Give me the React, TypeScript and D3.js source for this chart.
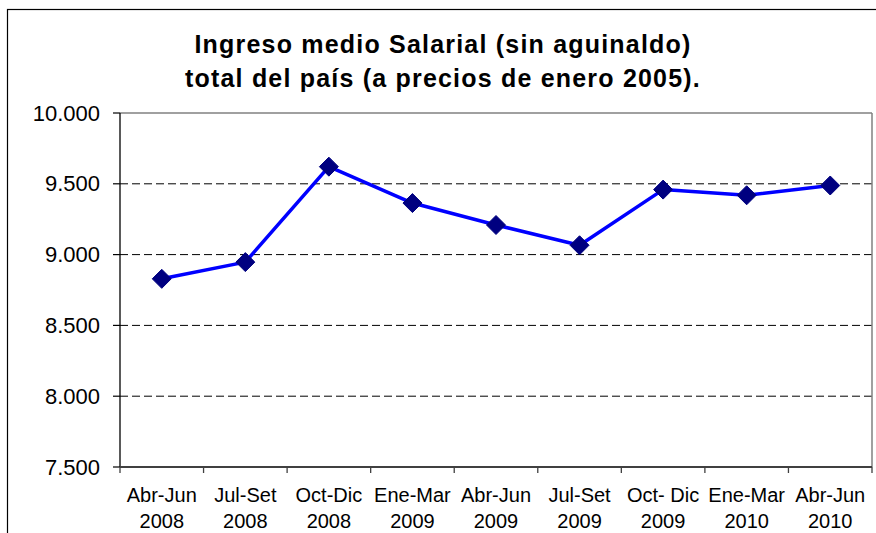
import React from "react";
import * as d3 from "d3";

const periods: string[] = ["Abr-Jun", "Jul-Set", "Oct-Dic", "Ene-Mar", "Abr-Jun", "Jul-Set", "Oct- Dic", "Ene-Mar", "Abr-Jun"];
const years: string[] = ["2008", "2008", "2008", "2009", "2009", "2009", "2009", "2010", "2010"];
const ingreso: number[] = [8829, 8947, 9621, 9364, 9209, 9066, 9459, 9419, 9488];
const yTicks: number[] = [7500, 8000, 8500, 9000, 9500, 10000];
const titleLines: string[] = ["Ingreso medio Salarial (sin aguinaldo)", "total del país (a precios de enero 2005)."];

const W = 876;
const H = 533;
const plot = { left: 120, right: 872, top: 113, bottom: 467 };

const esLocale = d3.formatLocale({ decimal: ",", thousands: ".", grouping: [3], currency: ["$", ""] });
const fmt = esLocale.format(",.0f");

export default function App() {
  const keys = periods.map((_, i) => String(i));
  const x = d3.scaleBand<string>().domain(keys).range([plot.left, plot.right]).padding(0);
  const y = d3.scaleLinear().domain([7500, 10000]).range([plot.bottom, plot.top]);
  const cx = (i: number) => (x(String(i)) as number) + x.bandwidth() / 2;

  const line = d3
    .line<number>()
    .x((_, i) => cx(i))
    .y((d) => y(d));

  const boundaries = keys.map((k) => x(k) as number).concat([plot.right]);
  const font = "'Liberation Sans', Arial, sans-serif";
  const r = 9.5;

  return (
    <svg width={W} height={H} style={{ position: "absolute", left: 0, top: 0, background: "#fff" }} fontFamily={font}>
      <rect x={0} y={0} width={W} height={H} fill="#fff" />
      <rect x={7.5} y={9.5} width={W + 20} height={H + 20} fill="none" stroke="#000" strokeWidth={1.2} />

      {titleLines.map((t, i) => (
        <text key={i} x={443} y={53 + i * 34} textAnchor="middle" fontSize={25} fontWeight="bold" letterSpacing={1.2} fill="#000">
          {t}
        </text>
      ))}

      {/* gridlines */}
      {yTicks
        .filter((v) => v > 7500 && v < 10000)
        .map((v) => (
          <line key={v} x1={plot.left} x2={plot.right} y1={y(v)} y2={y(v)} stroke="#000" strokeWidth={1} strokeDasharray="8,4" />
        ))}
      {/* plot border top/right */}
      <line x1={plot.left} x2={plot.right} y1={y(10000)} y2={y(10000)} stroke="#808080" strokeWidth={1.5} />
      <line x1={plot.right} x2={plot.right} y1={plot.top} y2={plot.bottom} stroke="#808080" strokeWidth={1.5} />

      {/* y axis */}
      <line x1={plot.left} x2={plot.left} y1={plot.top} y2={plot.bottom} stroke="#000" strokeWidth={1.3} />
      {yTicks.map((v) => (
        <g key={v}>
          <line x1={plot.left - 7} x2={plot.left} y1={y(v)} y2={y(v)} stroke="#000" strokeWidth={1.2} />
          <text x={100} y={y(v)} textAnchor="end" dominantBaseline="central" fontSize={22} fill="#000">
            {fmt(v)}
          </text>
        </g>
      ))}

      {/* x axis */}
      <line x1={plot.left} x2={plot.right} y1={plot.bottom} y2={plot.bottom} stroke="#404040" strokeWidth={2} />
      {boundaries.map((b, i) => (
        <line key={i} x1={b} x2={b} y1={plot.bottom} y2={plot.bottom + 6} stroke="#404040" strokeWidth={1.3} />
      ))}
      {periods.map((p, i) => (
        <g key={i}>
          <text x={cx(i)} y={502} textAnchor="middle" fontSize={20} fill="#000">
            {p}
          </text>
          <text x={cx(i)} y={528} textAnchor="middle" fontSize={20} fill="#000">
            {years[i]}
          </text>
        </g>
      ))}

      {/* series */}
      <path d={line(ingreso) || ""} fill="none" stroke="#0000FF" strokeWidth={3.5} strokeLinejoin="round" />
      {ingreso.map((v, i) => {
        const px = cx(i);
        const py = y(v);
        return (
          <path
            key={i}
            d={`M${px},${py - r}L${px + r},${py}L${px},${py + r}L${px - r},${py}Z`}
            fill="#000080"
            stroke="#000080"
            strokeWidth={1}
          />
        );
      })}
    </svg>
  );
}
